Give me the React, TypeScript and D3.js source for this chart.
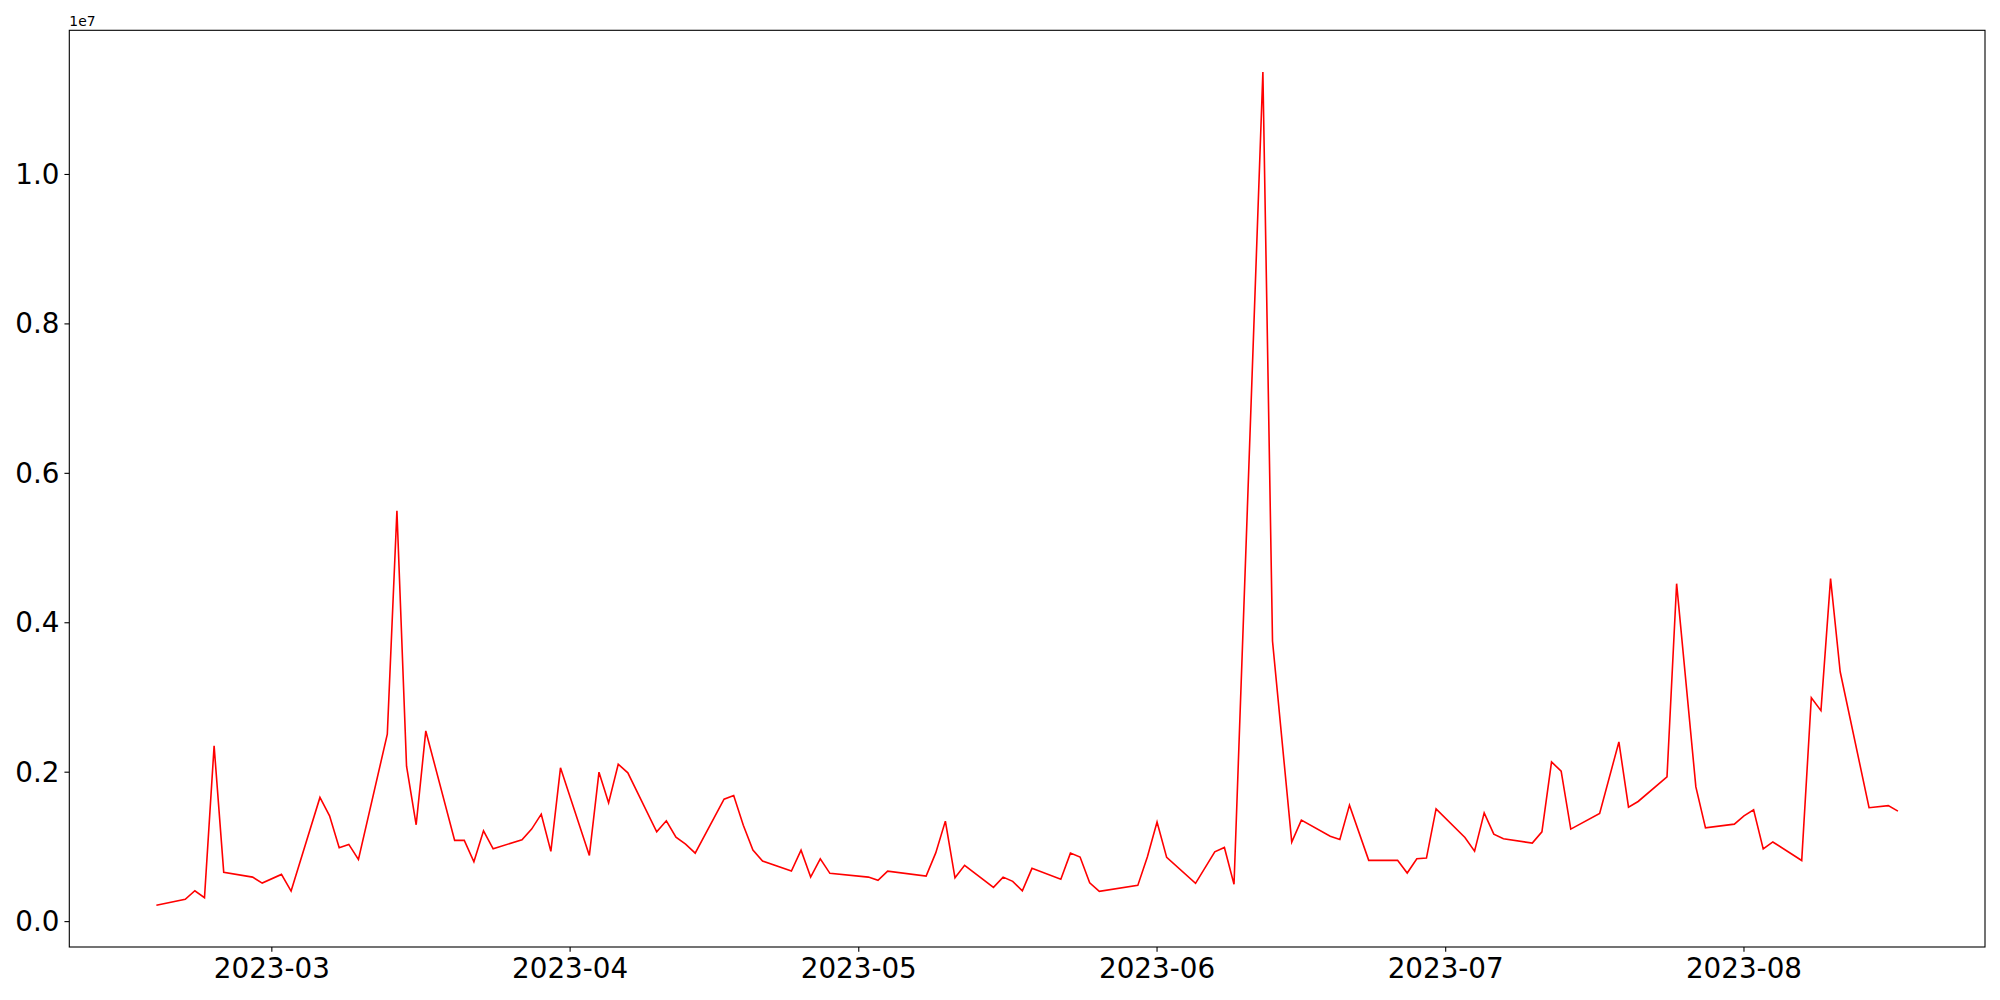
import React from "react";
import * as d3 from "d3";

const dates: string[] = [
  "2023-02-17","2023-02-20","2023-02-21","2023-02-22","2023-02-23","2023-02-24",
  "2023-02-27","2023-02-28","2023-03-02","2023-03-03",
  "2023-03-06","2023-03-07","2023-03-08","2023-03-09","2023-03-10",
  "2023-03-13","2023-03-14","2023-03-15","2023-03-16","2023-03-17",
  "2023-03-20","2023-03-21","2023-03-22","2023-03-23","2023-03-24",
  "2023-03-27","2023-03-28","2023-03-29","2023-03-30","2023-03-31",
  "2023-04-03","2023-04-04","2023-04-05","2023-04-06","2023-04-07",
  "2023-04-10","2023-04-11","2023-04-12","2023-04-13","2023-04-14",
  "2023-04-17","2023-04-18","2023-04-19","2023-04-20","2023-04-21",
  "2023-04-24","2023-04-25","2023-04-26","2023-04-27","2023-04-28",
  "2023-05-02","2023-05-03","2023-05-04",
  "2023-05-08","2023-05-09","2023-05-10","2023-05-11","2023-05-12",
  "2023-05-15","2023-05-16","2023-05-17","2023-05-18","2023-05-19",
  "2023-05-22","2023-05-23","2023-05-24","2023-05-25","2023-05-26",
  "2023-05-30","2023-05-31","2023-06-01","2023-06-02",
  "2023-06-05","2023-06-07","2023-06-08","2023-06-09",
  "2023-06-12","2023-06-13","2023-06-15","2023-06-16",
  "2023-06-19","2023-06-20","2023-06-21","2023-06-23",
  "2023-06-26","2023-06-27","2023-06-28","2023-06-29","2023-06-30",
  "2023-07-03","2023-07-04","2023-07-05","2023-07-06","2023-07-07",
  "2023-07-10","2023-07-11","2023-07-12","2023-07-13","2023-07-14",
  "2023-07-17","2023-07-19","2023-07-20","2023-07-21",
  "2023-07-24","2023-07-25","2023-07-27","2023-07-28",
  "2023-07-31","2023-08-01","2023-08-02","2023-08-03","2023-08-04",
  "2023-08-07","2023-08-08","2023-08-09","2023-08-10","2023-08-11",
  "2023-08-14","2023-08-16","2023-08-17",
];

const values: number[] = [
  218000, 298000, 413000, 320000, 2352000, 659000,
  596000, 516000, 632000, 409000,
  1662000, 1416000, 988000, 1033000, 833000,
  2508000, 5499000, 2080000, 1296000, 2552000,
  1087000, 1087000, 801000, 1215000, 975000,
  1095000, 1238000, 1438000, 940000, 2058000,
  886000, 2000000, 1590000, 2107000, 1991000,
  1202000, 1349000, 1131000, 1037000, 917000,
  1639000, 1688000, 1291000, 957000, 810000,
  676000, 957000, 596000, 841000, 646000,
  596000, 552000, 676000,
  610000, 920000, 1345000, 587000, 753000,
  459000, 596000, 539000, 413000, 713000,
  566000, 917000, 864000, 520000, 405000,
  485000, 868000, 1332000, 860000,
  512000, 934000, 993000, 499000,
  11372000, 3755000, 1064000, 1358000,
  1144000, 1100000, 1559000, 820000,
  820000, 650000, 841000, 850000, 1509000,
  1127000, 944000, 1456000, 1171000, 1108000,
  1051000, 1202000, 2138000, 2013000, 1238000,
  1448000, 2405000, 1532000, 1608000,
  1937000, 4523000, 1803000, 1255000,
  1305000, 1416000, 1497000, 972000, 1066000,
  818000, 2996000, 2824000, 4590000, 3344000,
  1525000, 1553000, 1479000,
];

const yTicks: number[] = [0, 2e6, 4e6, 6e6, 8e6, 1e7];
const offsetLabel = "1e7";

const W = 2000;
const H = 1000;
const L = 69.3;
const R = 1985;
const T = 30.3;
const B = 947;

export default function App() {
  const parse = d3.utcParse("%Y-%m-%d");
  const data = dates.map((d, i) => ({ date: parse(d) as Date, value: values[i] }));

  const [x0, x1] = d3.extent(data, (d) => d.date) as [Date, Date];
  const span = x1.getTime() - x0.getTime();
  const x = d3
    .scaleUtc()
    .domain([new Date(x0.getTime() - 0.05 * span), new Date(x1.getTime() + 0.05 * span)])
    .range([L, R]);

  const [v0, v1] = d3.extent(values) as [number, number];
  const vs = v1 - v0;
  const y = d3
    .scaleLinear()
    .domain([v0 - 0.05 * vs, v1 + 0.05 * vs])
    .range([B, T]);

  const line = d3
    .line<{ date: Date; value: number }>()
    .x((d) => x(d.date))
    .y((d) => y(d.value));

  const xTicks = d3.utcMonth.range(x.domain()[0], x.domain()[1]);
  const fmt = d3.utcFormat("%Y-%m");
  const font = "'DejaVu Sans', sans-serif";
  const tickLen = 4.86;

  return (
    <svg
      width={W}
      height={H}
      style={{ position: "absolute", left: 0, top: 0, background: "#fff" }}
    >
      <rect x={0} y={0} width={W} height={H} fill="#fff" />
      <path d={line(data) || ""} fill="none" stroke="#ff0000" strokeWidth={1.6} strokeLinejoin="miter" />
      <rect x={L} y={T} width={R - L} height={B - T} fill="none" stroke="#000" strokeWidth={1.1} />
      {yTicks.map((t) => (
        <g key={"y" + t}>
          <line x1={L - tickLen} x2={L} y1={y(t)} y2={y(t)} stroke="#000" strokeWidth={1.1} />
          <text
            x={L - tickLen - 5}
            y={y(t)}
            textAnchor="end"
            dominantBaseline="central"
            fontFamily={font}
            fontSize={27.78}
            fill="#000"
          >
            {(t / 1e7).toFixed(1)}
          </text>
        </g>
      ))}
      {xTicks.map((t) => (
        <g key={"x" + t.getTime()}>
          <line x1={x(t)} x2={x(t)} y1={B} y2={B + tickLen} stroke="#000" strokeWidth={1.1} />
          <text
            x={x(t)}
            y={B + tickLen + 5 + 21}
            textAnchor="middle"
            fontFamily={font}
            fontSize={27.78}
            fill="#000"
          >
            {fmt(t)}
          </text>
        </g>
      ))}
      <text x={L} y={26} fontFamily={font} fontSize={13.9} fill="#000">
        {offsetLabel}
      </text>
    </svg>
  );
}
